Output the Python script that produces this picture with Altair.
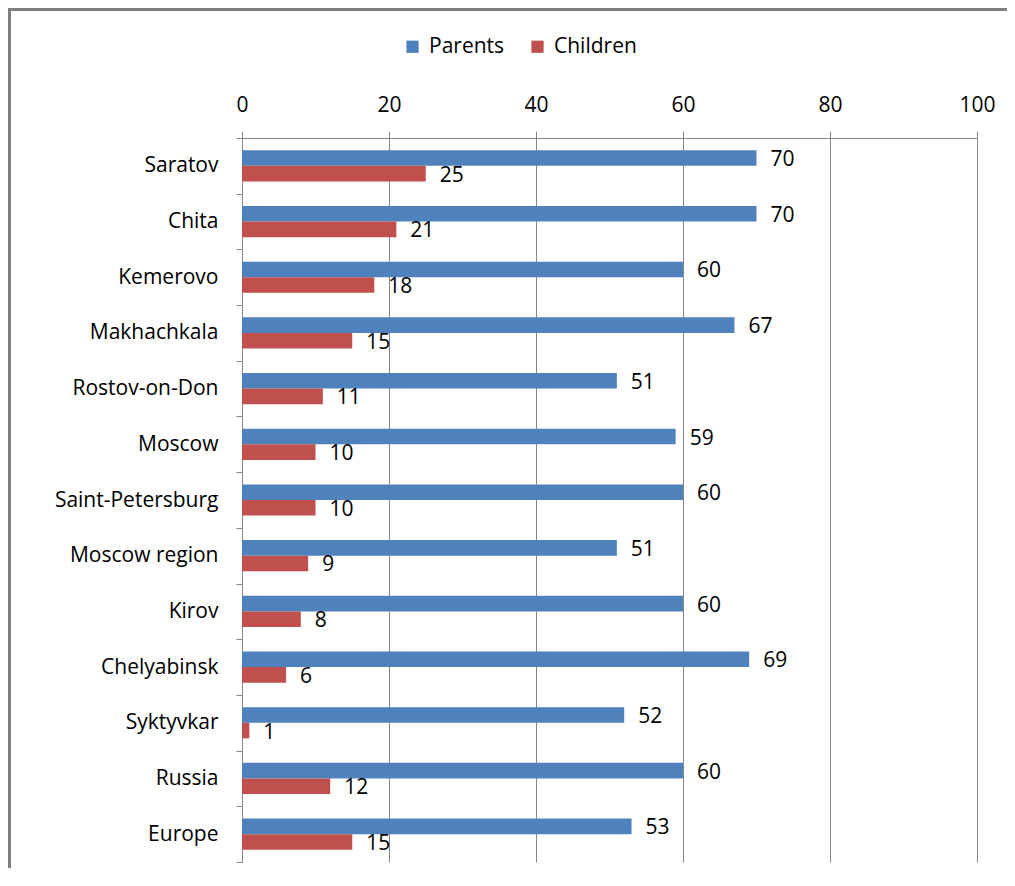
import altair as alt
import pandas as pd

cities = ["Saratov", "Chita\u00a0", "Kemerovo", "Makhachkala", "Rostov-on-Don", "Moscow\u00a0",
          "Saint-Petersburg\u00a0", "Moscow region", "Kirov\u00a0", "Chelyabinsk", "Syktyvkar\u00a0",
          "Russia", "Europe"]
parents = [70, 70, 60, 67, 51, 59, 60, 51, 60, 69, 52, 60, 53]
children = [25, 21, 18, 15, 11, 10, 10, 9, 8, 6, 1, 12, 15]
series = ["Parents", "Children"]
colors = ["#4F81BD", "#C0504D"]
x_ticks = [0, 20, 40, 60, 80, 100]

rows = []
for c, p, k in zip(cities, parents, children):
    rows.append({"city": c, "series": "Parents", "value": p})
    rows.append({"city": c, "series": "Children", "value": k})
df = pd.DataFrame(rows)

FONT = "Open Sans"
FS = 21

y_enc = alt.Y("city:N", sort=cities, title=None,
              scale=alt.Scale(paddingInner=0, paddingOuter=0),
              axis=alt.Axis(tickBand="extent", domainColor="#868686", tickColor="#868686",
                            tickSize=6, labelPadding=18, labelFontSize=FS, labelFont=FONT,
                            labelColor="#000000", grid=False))
x_enc = alt.X("value:Q", title=None,
              scale=alt.Scale(domain=[0, 100], nice=False),
              axis=alt.Axis(orient="top", values=x_ticks, grid=True, gridColor="#868686",
                            domainColor="#868686", tickColor="#868686", tickSize=7,
                            labelPadding=16, labelFontSize=FS, labelFont=FONT,
                            labelFlush=False, labelColor="#000000"))
yoff = alt.YOffset("series:N", sort=series,
                   scale=alt.Scale(paddingInner=0, paddingOuter=0.786))

bars = alt.Chart(df).mark_bar().encode(
    y=y_enc, x=x_enc, yOffset=yoff,
    color=alt.Color("series:N", sort=series,
                    scale=alt.Scale(domain=series, range=colors),
                    legend=alt.Legend(title=None, orient="none", direction="horizontal",
                                      legendX=160, legendY=-102, symbolType="square",
                                      symbolSize=150, symbolStrokeWidth=0,
                                      labelFontSize=FS, labelFont=FONT, labelColor="#000000",
                                      labelOffset=6, columnPadding=22)),
)

labels = alt.Chart(df).mark_text(align="left", baseline="middle", dx=14, dy=2,
                                 fontSize=FS, font=FONT, color="#000000").encode(
    y=alt.Y("city:N", sort=cities), x="value:Q", yOffset=yoff, text="value:Q")

one = pd.DataFrame({"a": [0]})
frame_left = alt.Chart(one).mark_rule(stroke="#7f7f7f", strokeWidth=3, clip=False).encode(
    x=alt.value(-232.5), y=alt.value(-130), y2=alt.value(760))
frame_top = alt.Chart(one).mark_rule(stroke="#7f7f7f", strokeWidth=3, clip=False).encode(
    x=alt.value(-234), x2=alt.value(780), y=alt.value(-128.5))

chart = alt.layer(bars, labels, frame_left, frame_top).properties(
    width=735, height=724,
    autosize=alt.AutoSizeParams(type="none"),
    padding={"left": 234, "top": 130, "right": 30, "bottom": 6},
).configure_view(stroke=None)

chart.save("out.html", embed_options={"renderer": "svg", "actions": False})
